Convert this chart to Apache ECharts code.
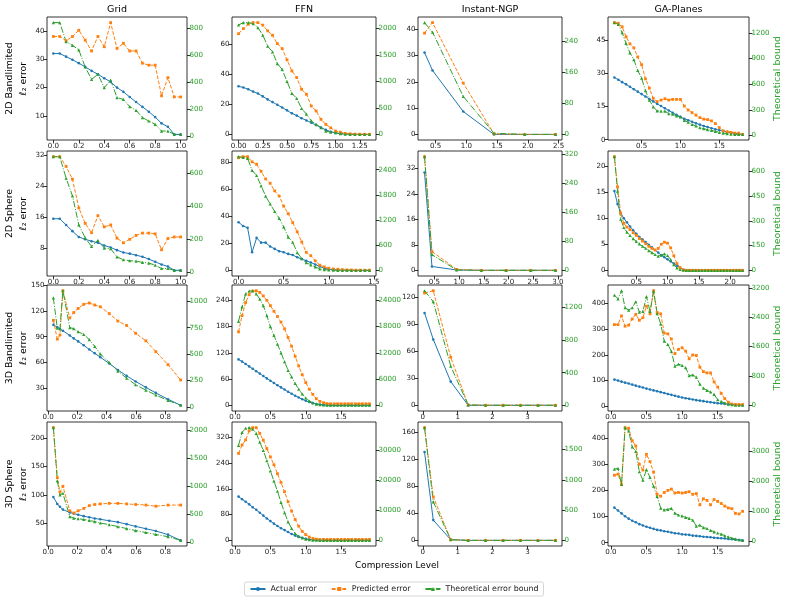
<!DOCTYPE html>
<html><head><meta charset="utf-8">
<script src="https://cdn.jsdelivr.net/npm/echarts@6/dist/echarts.min.js"></script>
<style>html,body{margin:0;padding:0;background:#fff}#c{width:788px;height:602px}</style>
</head><body><div id="c"></div>
<script>
// ---------------- DATA ----------------
const methods = ['Grid', 'FFN', 'Instant-NGP', 'GA-Planes'];
const tasks = ['2D Bandlimited', '2D Sphere', '3D Bandlimited', '3D Sphere'];
const seriesNames = ['Actual error', 'Predicted error', 'Theoretical error bound'];

// x (compression level) grids
const xGrid2D = [0,0.05,0.1,0.15,0.2,0.25,0.3,0.35,0.4,0.45,0.5,0.55,0.6,0.65,0.7,0.75,0.8,0.85,0.9,0.95,1.0];
const xFFN2DB = [0,0.05,0.1,0.15,0.2,0.25,0.3,0.35,0.4,0.45,0.5,0.55,0.6,0.65,0.7,0.75,0.8,0.85,0.9,0.95,1.0,1.05,1.1,1.15,1.2,1.25,1.3,1.35];
const xFFN2DS = [0,0.05,0.1,0.15,0.2,0.25,0.3,0.35,0.4,0.45,0.5,0.55,0.6,0.65,0.7,0.75,0.8,0.85,0.9,0.95,1.0,1.05,1.1,1.15,1.2,1.25,1.3,1.35,1.4,1.45];
const xNGP2DB = [0.32,0.45,0.95,1.45,1.95,2.45];
const xNGP2DS = [0.3,0.45,0.95,1.45,1.95,2.45,2.95];
const xGA2DB = [0.15,0.2,0.25,0.3,0.35,0.4,0.45,0.5,0.55,0.6,0.65,0.7,0.75,0.8,0.85,0.9,0.95,1.0,1.05,1.1,1.15,1.2,1.25,1.3,1.35,1.4,1.45,1.5,1.55,1.6,1.65,1.7,1.75,1.8];
const xGA2DS = [0.15,0.2,0.25,0.3,0.35,0.4,0.45,0.5,0.55,0.6,0.65,0.7,0.75,0.8,0.85,0.9,0.95,1.0,1.05,1.1,1.15,1.2,1.25,1.3,1.35,1.4,1.45,1.5,1.55,1.6,1.65,1.7,1.75,1.8,1.85,1.9,1.95,2.0,2.05,2.1,2.15,2.2];
const xGrid3D = [0.036,0.063,0.081,0.101,0.148,0.175,0.205,0.243,0.281,0.318,0.356,0.417,0.476,0.536,0.597,0.667,0.735,0.818,0.904];
const xFFN3D = [0.05,0.1,0.15,0.2,0.25,0.3,0.35,0.4,0.45,0.5,0.55,0.6,0.65,0.7,0.75,0.8,0.85,0.9,0.95,1.0,1.05,1.1,1.15,1.2,1.25,1.3,1.35,1.4,1.45,1.5,1.55,1.6,1.65,1.7,1.75,1.8,1.85,1.9];
const xNGP3D = [0.05,0.3,0.8,1.3,1.8,2.3,2.8,3.3,3.8];
const xGA3D = [0.05,0.1,0.15,0.2,0.25,0.3,0.35,0.4,0.45,0.5,0.55,0.6,0.65,0.7,0.75,0.8,0.85,0.9,0.95,1.0,1.05,1.1,1.15,1.2,1.25,1.3,1.35,1.4,1.45,1.5,1.55,1.6,1.65,1.7,1.75,1.8,1.85];

// Row 1: 2D Bandlimited
const actual_2DB_Grid = [32.0,32.0,30.9,29.8,28.6,27.3,25.9,24.7,23.3,22.0,20.0,18.5,16.7,14.9,13.2,11.5,9.6,7.4,6.2,3.5,3.5];
const pred_2DB_Grid = [38.0,38.0,36.5,38.0,40.2,36.7,32.9,38.0,34.4,42.9,33.8,35.6,32.9,32.9,28.6,27.9,27.9,17.1,23.5,16.7,16.7];
const bound_2DB_Grid = [845,845,703,676,641,514,422,460,360,417,286,273,219,191,137,112,87,37,37,12,12];

const actual_2DB_FFN = [32,31.2,30,28.5,27.2,25.3,23.3,21.5,19.7,17.9,16,14,12.5,10.8,9.3,7.8,6.2,4.6,3.0,1.8,1.0,0.5,0.2,0.1,0.05,0,0,0];
const pred_2DB_FFN = [67,70.4,73.3,74.4,74.4,72.7,68.9,66,60.4,57.1,49.6,42.2,37.8,30,26.7,18.9,15.6,10,6.7,4.4,2.2,1.5,0.7,0.4,0.2,0.1,0.1,0.1];
const bound_2DB_FFN = [2063,2108,2108,2089,2013,1873,1663,1556,1333,1225,997,775,679,489,381,254,190,127,63,44,32,13,6,2,1,0,0,0];

const actual_2DB_NGP = [31.1,24.3,8.7,0,0,0];
const pred_2DB_NGP = [38.5,42.5,19.5,0.2,0,0];
const bound_2DB_NGP = [289,264,98,3,0,0];

const actual_2DB_GA = [28.1,27.1,26.0,25.0,23.9,22.8,21.7,20.6,19.5,18.4,17.3,16.2,15.2,14.2,13.2,12.2,11.2,10.3,9.5,8.8,8.1,7.4,6.8,6.2,5.7,5.2,4.7,4.3,3.9,3.5,3.2,2.9,2.6,2.4];
const pred_2DB_GA = [52.9,52.6,51,46.5,43.3,41.5,37.4,33.9,27.5,23.3,18.7,17.2,17.9,18.5,17.9,18.2,18.2,18.2,15.2,13.4,12.2,11.1,10.0,9.3,9.1,8.5,7.3,5.5,4.0,3.6,3.3,3.0,3.0,2.4];
const bound_2DB_GA = [1319,1299,1201,1075,965,886,760,669,524,413,335,287,283,283,256,248,228,217,177,154,130,110,91,79,67,59,47,35,28,20,16,12,12,12];

// Row 2: 2D Sphere
const actual_2DS_Grid = [15.6,15.6,14.0,12.4,10.9,10.3,9.8,9.4,8.7,8.2,7.5,6.9,6.6,6.2,5.8,5.2,4.5,3.8,3.3,2.3,2.3];
const pred_2DS_Grid = [31.6,31.6,29.1,25.8,18.4,14.4,12.0,16.4,13.5,14.0,10.6,9.4,10.3,11.3,11.9,11.9,11.7,7.6,10.5,10.9,10.9];
const bound_2DS_Grid = [699,699,569,461,286,207,155,192,145,141,91,74,68,66,58,54,41,21,21,10,10];

const actual_2DS_FFN = [35.5,32.7,31.4,13.3,23.9,20.4,20.4,17.6,15.8,14.1,13.3,12.1,11.3,9.6,8.3,7.0,5.8,4.3,2.8,1.5,0.8,0.4,0.2,0.1,0.05,0,0,0,0,0];
const pred_2DS_FFN = [83.0,83.8,83.8,80,78.2,73,67.4,64.2,58.6,54.8,47.3,41.8,35.2,28.4,20.9,13.3,10.8,7.0,3.8,2.5,1.5,1.0,0.8,0.5,0.3,0.2,0.1,0.1,0.1,0.1];
const bound_2DS_FFN = [2710,2694,2669,2384,2261,2016,1771,1584,1404,1241,1037,792,669,424,278,180,131,82,33,16,8,3,1,0,0,0,0,0,0,0];

const actual_2DS_NGP = [30.7,1.2,0.1,0,0,0,0];
const pred_2DS_NGP = [35.7,5.9,0.3,0,0,0,0];
const bound_2DS_NGP = [312,43,1,0,0,0,0];

const actual_2DS_GA = [15.2,12.7,11.0,10.0,9.2,8.4,7.7,7.0,6.4,5.9,5.4,4.9,4.4,3.9,3.4,2.9,2.5,2.1,1.7,1.3,0.9,0.5,0.1,0,0,0,0,0,0,0,0,0,0,0,0,0,0,0,0,0,0,0];
const pred_2DS_GA = [21.8,16.0,11.0,9.0,8.3,7.8,7.2,6.7,6.1,5.6,5.1,4.6,4.2,3.9,4.2,5.0,5.4,5.2,4.3,2.8,1.3,0.5,0.1,0,0,0,0,0,0,0,0,0,0,0,0,0,0,0,0,0,0,0];
const bound_2DS_GA = [690,480,310,260,232,212,192,176,160,146,134,120,108,96,86,92,100,90,65,35,14,5,1,0,0,0,0,0,0,0,0,0,0,0,0,0,0,0,0,0,0,0];

// Row 3: 3D Bandlimited
const actual_3DB_Grid = [104,101,99,97,91.5,88,84.5,80,75,70.5,66,58.5,51,44,37.5,30.5,24,16.5,9.5];
const pred_3DB_Grid = [109.2,87.2,92,144,112,118.4,123.2,128,129.6,127.2,125.2,117.2,108.4,103.2,94,85.2,72.4,57.2,39.2];
const bound_3DB_Grid = [1032,745,741,1100,751,741,712,686,638,573,502,421,340,272,210,159,113,61,16];

const actual_3DB_FFN = [105,100,94.5,89,83.5,78,72.5,67,61.5,56,51,46,41,36,31,26.5,22,18,14,10.5,7.5,5,3,1.8,1,0.5,0.3,0.2,0.1,0.1,0.1,0.1,0.1,0.1,0.1,0.1,0.1,0.1];
const pred_3DB_FFN = [168,205,235,253,261,262,258,250,240,228,215,203,190,175,155,135,112,90,70,52,37,25,15,9,6,4,3.5,3.5,3.5,3.5,3.5,3.5,3.5,3.5,3.5,3.5,3.5,3.5];
const bound_3DB_FFN = [19200,22500,25500,26100,26200,25500,24300,22800,20500,18000,16000,14000,12000,10000,8000,6500,5000,3700,2600,1700,1000,600,300,150,80,40,20,20,20,20,20,20,20,20,20,20,20,20];

const actual_3DB_NGP = [102.5,73.1,26.3,0,0,0,0,0,0];
const pred_3DB_NGP = [124.6,127.2,53.3,0.4,0,0,0,0,0];
const bound_3DB_NGP = [1406,1272,480,4,0,0,0,0,0];

const actual_3DB_GA = [104,100,96,92,88.5,84.5,80.5,76.5,73,69,65.5,62,58.5,55,51.5,48,44.5,41,37.5,34,31.5,29,26.5,24,22,20,18,16,14,12,10.8,9.6,8.4,7.2,6,5,4];
const pred_3DB_GA = [318,318,352,312,316,340,358,335,345,390,360,450,365,360,285,282,262,205,222,228,215,185,200,198,152,135,130,130,95,75,50,30,16,9,7,7,7];
const bound_3DB_GA = [3000,2900,3120,2660,2590,2660,2820,2540,2560,2960,2560,3100,2500,2220,1750,1660,1470,1070,1120,1090,1030,810,830,770,580,470,410,370,300,160,110,65,37,19,9,5,5];

// Row 4: 3D Sphere
const actual_3DS_Grid = [96,84,79,74,69,67,65,62.5,60.5,58.5,57,54.5,52,48.5,44.5,40.5,36.5,30,20];
const pred_3DS_Grid = [218,130,105,115,72,68,72,76,81,83,84,85,85,84,83,82,80,82,82];
const bound_3DS_Grid = [2050,1100,850,880,465,435,425,412,395,375,350,320,285,250,215,180,145,105,40];

const actual_3DS_FFN = [136,128,120,112,103,95,86,77,68,60,52,45,38,32,26,20,15,11,8,5,3,2,1.2,0.8,0.5,0.3,0.2,0.2,0.2,0.2,0.2,0.2,0.2,0.2,0.2,0.2,0.2,0.2];
const pred_3DS_FFN = [270,296,312,340,350,350,332,311,285,259,235,207,180,151,120,91,65,44,28,18,10.5,6,4,3,3,3,3,3,3,3,3,3,3,3,3,3,3,3];
const bound_3DS_FFN = [31700,36000,37400,37600,37100,35700,32800,30000,26600,23200,19800,16400,12700,9300,6200,4000,2300,1400,800,450,230,100,50,30,20,20,20,20,20,20,20,20,20,20,20,20,20,20];

const actual_3DS_NGP = [131,30,1,0,0,0,0,0,0];
const pred_3DS_NGP = [167,64.5,1,0,0,0,0,0,0];
const bound_3DS_NGP = [1863,636,11,0,0,0,0,0,0];

const actual_3DS_GA = [134,123,112,101,92,84,78,71,66,61,57,53,49,47,44,42,39,36,35,32,31,30,27,26,25,23,22,21,19,18,17,16,14,13,12,10,9];
const pred_3DS_GA = [258,262,222,440,438,390,370,300,278,338,310,270,185,178,192,200,205,190,192,190,192,195,185,188,145,168,162,145,165,158,150,140,133,130,112,110,120];
const bound_3DS_GA = [2400,2420,1890,3780,3670,3140,2990,2310,2030,2380,2120,1830,1490,1100,1040,1060,1090,930,870,840,790,760,700,500,530,450,420,360,310,270,230,180,140,100,70,45,25];

// Tick labels
const xt_Grid2D = ['0.0','0.2','0.4','0.6','0.8','1.0'];
const xt_FFN2DB = ['0.00','0.25','0.50','0.75','1.00','1.25'];
const xt_FFN2DS = ['0.0','0.5','1.0','1.5'];
const xt_NGP2DB = ['0.5','1.0','1.5','2.0','2.5'];
const xt_NGP2DS = ['0.5','1.0','1.5','2.0','2.5','3.0'];
const xt_GA2DB = ['0.5','1.0','1.5'];
const xt_GA2DS = ['0.5','1.0','1.5','2.0'];
const xt_Grid3D = ['0.0','0.2','0.4','0.6','0.8'];
const xt_FFN3D = ['0.0','0.5','1.0','1.5'];
const xt_NGP3D = ['0','1','2','3'];
const xt_GA3D = ['0.0','0.5','1.0','1.5'];

const lt_2DB_Grid = ['10','20','30','40'];           const rt_2DB_Grid = ['0','200','400','600','800'];
const lt_2DB_FFN = ['0','20','40','60'];             const rt_2DB_FFN = ['0','500','1000','1500','2000'];
const lt_2DB_NGP = ['0','10','20','30','40'];        const rt_2DB_NGP = ['0','80','160','240'];
const lt_2DB_GA = ['0','15','30','45'];              const rt_2DB_GA = ['0','300','600','900','1200'];
const lt_2DS_Grid = ['8','16','24','32'];            const rt_2DS_Grid = ['0','200','400','600'];
const lt_2DS_FFN = ['0','20','40','60','80'];        const rt_2DS_FFN = ['0','600','1200','1800','2400'];
const lt_2DS_NGP = ['0','8','16','24','32'];         const rt_2DS_NGP = ['0','80','160','240','320'];
const lt_2DS_GA = ['0','5','10','15','20'];          const rt_2DS_GA = ['0','150','300','450','600'];
const lt_3DB_Grid = ['30','60','90','120','150'];    const rt_3DB_Grid = ['0','250','500','750','1000'];
const lt_3DB_FFN = ['0','60','120','180','240'];     const rt_3DB_FFN = ['0','6000','12000','18000','24000'];
const lt_3DB_NGP = ['0','30','60','90','120'];       const rt_3DB_NGP = ['0','400','800','1200'];
const lt_3DB_GA = ['0','100','200','300','400'];     const rt_3DB_GA = ['0','800','1600','2400','3200'];
const lt_3DS_Grid = ['50','100','150','200'];        const rt_3DS_Grid = ['0','500','1000','1500','2000'];
const lt_3DS_FFN = ['0','80','160','240','320'];     const rt_3DS_FFN = ['0','10000','20000','30000'];
const lt_3DS_NGP = ['0','40','80','120','160'];      const rt_3DS_NGP = ['0','500','1000','1500'];
const lt_3DS_GA = ['0','100','200','300','400'];     const rt_3DS_GA = ['0','1000','2000','3000'];

// panel table (row-major) built from the arrays above
const panels = [
  [xGrid2D, actual_2DB_Grid, pred_2DB_Grid, bound_2DB_Grid, xt_Grid2D, lt_2DB_Grid, rt_2DB_Grid],
  [xFFN2DB, actual_2DB_FFN, pred_2DB_FFN, bound_2DB_FFN, xt_FFN2DB, lt_2DB_FFN, rt_2DB_FFN],
  [xNGP2DB, actual_2DB_NGP, pred_2DB_NGP, bound_2DB_NGP, xt_NGP2DB, lt_2DB_NGP, rt_2DB_NGP],
  [xGA2DB, actual_2DB_GA, pred_2DB_GA, bound_2DB_GA, xt_GA2DB, lt_2DB_GA, rt_2DB_GA],
  [xGrid2D, actual_2DS_Grid, pred_2DS_Grid, bound_2DS_Grid, xt_Grid2D, lt_2DS_Grid, rt_2DS_Grid],
  [xFFN2DS, actual_2DS_FFN, pred_2DS_FFN, bound_2DS_FFN, xt_FFN2DS, lt_2DS_FFN, rt_2DS_FFN],
  [xNGP2DS, actual_2DS_NGP, pred_2DS_NGP, bound_2DS_NGP, xt_NGP2DS, lt_2DS_NGP, rt_2DS_NGP],
  [xGA2DS, actual_2DS_GA, pred_2DS_GA, bound_2DS_GA, xt_GA2DS, lt_2DS_GA, rt_2DS_GA],
  [xGrid3D, actual_3DB_Grid, pred_3DB_Grid, bound_3DB_Grid, xt_Grid3D, lt_3DB_Grid, rt_3DB_Grid],
  [xFFN3D, actual_3DB_FFN, pred_3DB_FFN, bound_3DB_FFN, xt_FFN3D, lt_3DB_FFN, rt_3DB_FFN],
  [xNGP3D, actual_3DB_NGP, pred_3DB_NGP, bound_3DB_NGP, xt_NGP3D, lt_3DB_NGP, rt_3DB_NGP],
  [xGA3D, actual_3DB_GA, pred_3DB_GA, bound_3DB_GA, xt_GA3D, lt_3DB_GA, rt_3DB_GA],
  [xGrid3D, actual_3DS_Grid, pred_3DS_Grid, bound_3DS_Grid, xt_Grid3D, lt_3DS_Grid, rt_3DS_Grid],
  [xFFN3D, actual_3DS_FFN, pred_3DS_FFN, bound_3DS_FFN, xt_FFN3D, lt_3DS_FFN, rt_3DS_FFN],
  [xNGP3D, actual_3DS_NGP, pred_3DS_NGP, bound_3DS_NGP, xt_NGP3D, lt_3DS_NGP, rt_3DS_NGP],
  [xGA3D, actual_3DS_GA, pred_3DS_GA, bound_3DS_GA, xt_GA3D, lt_3DS_GA, rt_3DS_GA]
];

// ---------------- LAYOUT / STYLE ----------------
const FONT = '"DejaVu Sans", sans-serif';
const BLUE = '#1f77b4', ORANGE = '#ff7f0e', GREEN = '#2ca02c';
const COLS = [{l:47,w:140},{l:232,w:144},{l:418,w:144},{l:608,w:141}];
const ROWS = [{t:17,h:123},{t:151,h:125},{t:285,h:126},{t:422,h:124}];

function pad(arrs){
  let mn = Infinity, mx = -Infinity;
  arrs.forEach(a => a.forEach(v => { if (v < mn) mn = v; if (v > mx) mx = v; }));
  const r = (mx - mn) || 1;
  return [mn - 0.05 * r, mx + 0.05 * r];
}
function ticksIn(labels, rng){
  return labels.map(parseFloat).filter(v => v >= rng[0] - 1e-9 && v <= rng[1] + 1e-9);
}
function fmt(labels){
  return function(v){
    for (const s of labels) { if (Math.abs(parseFloat(s) - v) < 1e-7 * Math.max(1, Math.abs(v))) return s; }
    return '';
  };
}
function axis(gi, rng, labels, pos, labelColor){
  const tv = ticksIn(labels, rng);
  return {
    type: 'value', gridIndex: gi, min: rng[0], max: rng[1], scale: true, position: pos,
    axisLine: {show: false, onZero: false},
    splitLine: {show: false},
    axisTick: {show: true, length: 3.5, lineStyle: {color: '#000', width: 0.8}, customValues: tv},
    axisLabel: {customValues: tv, formatter: fmt(labels), fontSize: 7.1, fontFamily: FONT, color: labelColor, margin: 2.5, hideOverlap: false}
  };
}

const grid = [], xAxis = [], yAxis = [], series = [];
panels.forEach((pn, i) => {
  const r = Math.floor(i / 4), c = i % 4;
  const [xs, act, pred, bnd, xt, lt, rt] = pn;
  grid.push({left: COLS[c].l, top: ROWS[r].t, width: COLS[c].w, height: ROWS[r].h,
             show: true, borderColor: '#000', borderWidth: 0.8, backgroundColor: 'transparent'});
  xAxis.push(axis(i, pad([xs]), xt, 'bottom', '#222'));
  yAxis.push(axis(i, pad([act, pred]), lt, 'left', '#222'));
  yAxis.push(axis(i, pad([bnd]), rt, 'right', GREEN));
  const pairs = ys => xs.map((x, k) => [x, ys[k]]);
  series.push({name: seriesNames[0], type: 'line', xAxisIndex: i, yAxisIndex: 2*i, data: pairs(act),
    symbol: 'circle', symbolSize: 2.6, lineStyle: {color: BLUE, width: 1}, itemStyle: {color: BLUE, borderWidth: 0}, animation: false});
  series.push({name: seriesNames[1], type: 'line', xAxisIndex: i, yAxisIndex: 2*i, data: pairs(pred),
    symbol: 'rect', symbolSize: 2.8, lineStyle: {color: ORANGE, width: 1, type: [3.7, 1.6]}, itemStyle: {color: ORANGE, borderWidth: 0}, animation: false});
  series.push({name: seriesNames[2], type: 'line', xAxisIndex: i, yAxisIndex: 2*i+1, data: pairs(bnd),
    symbol: 'triangle', symbolSize: 3.2, lineStyle: {color: GREEN, width: 1, type: [6.4, 1.6, 1, 1.6]}, itemStyle: {color: GREEN, borderWidth: 0}, animation: false});
});

const graphic = [];
methods.forEach((m, c) => {
  graphic.push({type: 'text', x: COLS[c].l + COLS[c].w / 2, y: 10,
    style: {text: m, font: '9.5px ' + FONT, fill: '#000', textAlign: 'center', textVerticalAlign: 'middle'}});
});
tasks.forEach((t, r) => {
  const cy = ROWS[r].t + ROWS[r].h / 2;
  graphic.push({type: 'text', x: 17, y: cy, rotation: Math.PI / 2,
    style: {text: t + '\nℓ₂ error', font: '9.4px ' + FONT, fill: '#000', textAlign: 'center', textVerticalAlign: 'middle', lineHeight: 14}});
  graphic.push({type: 'text', x: 778, y: cy, rotation: Math.PI / 2,
    style: {text: 'Theoretical bound', font: '9.4px ' + FONT, fill: GREEN, textAlign: 'center', textVerticalAlign: 'middle'}});
});
graphic.push({type: 'text', x: 397, y: 566,
  style: {text: 'Compression Level', font: '8.9px ' + FONT, fill: '#000', textAlign: 'center', textVerticalAlign: 'middle'}});

const option = {
  animation: false,
  backgroundColor: '#fff',
  grid, xAxis, yAxis, series, graphic,
  legend: {data: seriesNames, bottom: 6, left: 'center', itemWidth: 15, itemHeight: 5, itemGap: 14,
    textStyle: {fontSize: 7.9, fontFamily: FONT, color: '#222'},
    borderColor: '#ccc', borderWidth: 0.8, borderRadius: 2, padding: [3, 5, 3, 5]}
};
const chart = echarts.init(document.getElementById('c'));
chart.setOption(option);
</script></body></html>
